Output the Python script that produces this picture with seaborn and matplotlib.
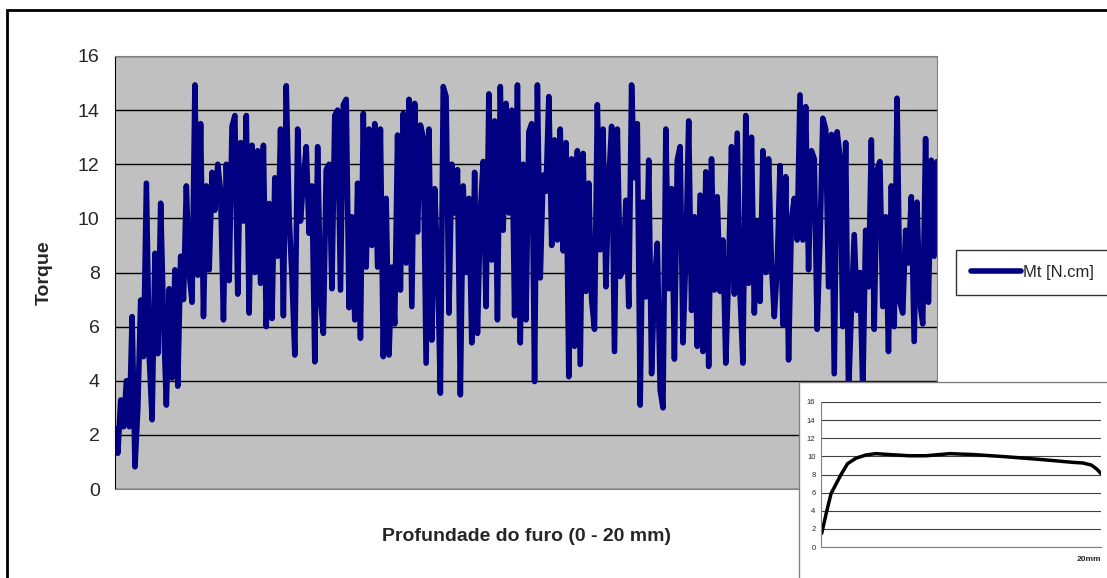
import numpy as np
import pandas as pd
import matplotlib
matplotlib.use("Agg")
import matplotlib.pyplot as plt
import seaborn as sns
from matplotlib.patches import Rectangle

# torque readings along the hole (left to right)
torque = [
    2.24, 1.32, 3.29, 2.3, 4.0, 2.3, 6.37, 0.82, 3.0, 6.98, 4.89, 11.3, 4.9, 2.56,
    8.71, 5.0, 10.56, 6.27, 3.1, 7.4, 4.1, 8.1, 3.8, 8.6, 7.0, 11.2, 7.97, 6.9,
    14.93, 7.9, 13.5, 6.37, 11.2, 8.1, 11.7, 10.3,
    12.0, 11.0, 6.25, 12.0, 7.7, 13.4, 13.8, 7.2, 12.8, 9.9, 13.8, 6.5, 12.7, 8.0,
    12.5, 7.6, 12.7, 6.0, 10.55, 6.3, 11.5, 8.6, 13.3, 6.4, 14.9, 10.06, 7.85, 4.95,
    13.3, 9.9, 11.4, 12.65, 9.45, 11.2, 4.7, 12.65, 7.1,
    5.75, 11.8, 12.0, 7.4, 13.8, 14.0, 7.35, 14.2, 14.4, 6.7, 10.06, 6.25, 11.3,
    5.57, 13.88, 8.2, 13.3, 9.0, 13.5, 8.2, 13.3, 4.89, 10.74, 4.95, 8.2, 6.1,
    13.08, 7.35, 13.88, 8.35,
    14.4, 6.74, 14.25, 9.5, 13.45, 13.0, 4.65, 13.3, 5.5, 11.1, 8.4, 3.54, 14.87,
    14.5, 6.5, 12.0, 10.2, 11.8, 3.48, 11.2, 8.0, 10.74, 5.4, 11.7, 5.75, 10.2,
    12.1, 6.74, 14.6, 8.46, 13.6, 6.25, 14.87, 9.56, 14.25, 10.2,
    14.0, 6.4, 14.93, 5.4, 12.0, 6.25, 13.2, 13.5, 3.97, 14.93, 7.8, 11.6, 11.0,
    14.5, 9.0, 12.9, 9.2, 13.3, 8.8, 12.8, 4.15, 12.2, 5.27, 12.5, 4.6, 12.4, 7.3,
    11.3, 7.0, 5.9, 14.2, 8.84,
    13.3, 7.47, 11.4, 13.4, 5.08, 13.3, 7.85, 8.1, 10.67, 6.74, 14.93, 11.5, 13.5,
    3.1, 10.6, 7.1, 12.15, 4.26, 7.6, 9.08, 3.66, 3.0, 13.3, 7.4, 11.1, 4.8, 12.15,
    12.65, 5.4, 8.58, 13.6, 6.6, 10.06, 5.27, 10.86,
    5.08, 11.72, 4.53, 12.2, 7.35, 10.8, 7.3, 9.2, 4.65, 8.1, 12.65, 7.2, 13.15,
    7.2, 4.65, 13.8, 7.6, 13.0, 6.5, 9.9, 6.93, 12.5, 8.0, 12.2, 8.35, 6.37, 8.2,
    11.95, 6.06, 11.54, 4.77, 9.95, 10.74, 9.2,
    14.56, 9.2, 14.13, 8.1, 12.5, 12.2, 5.9, 9.2, 13.7, 13.3, 7.47, 13.1, 4.26,
    13.2, 12.3, 6.0, 12.8, 3.5, 6.6, 9.4, 6.6, 8.0, 3.6, 9.56, 7.47, 12.9, 5.9,
    11.8, 12.1, 6.74, 10.06, 5.08, 11.2, 6.0, 14.44, 6.9, 6.5, 9.56, 8.35, 10.8,
    5.45, 10.6, 6.9, 6.1, 12.95, 6.9, 12.15, 8.6, 12.1,
]

# average curve in the small inset (depth in mm, torque)
avg_depth = [0.05, 0.4, 0.72, 1.43, 1.9, 2.5, 3.2, 3.9, 4.9, 6.3, 7.5, 9.2,
             10.9, 13.2, 15.6, 18.0, 18.7, 19.3, 19.7, 20.0]
avg_torque = [1.5, 3.9, 5.9, 8.0, 9.2, 9.8, 10.15, 10.3, 10.2, 10.07, 10.07, 10.3,
              10.2, 9.96, 9.67, 9.34, 9.27, 9.05, 8.6, 8.1]

y_ticks = [0, 2, 4, 6, 8, 10, 12, 14, 16]

df = pd.DataFrame({"step": np.arange(len(torque)), "Mt [N.cm]": torque})
avg = pd.DataFrame({"depth": avg_depth, "torque": avg_torque})

sns.set_style("white")
plt.rcParams['font.family'] = ['Liberation Sans', 'DejaVu Sans']

W, H = 1107, 578
fig = plt.figure(figsize=(W / 100, H / 100), dpi=100)

# outer chart frame
fig.patches.append(Rectangle((7 / W, -0.05), 1.2, 1 - 10 / H + 0.05,
                             transform=fig.transFigure, fill=False,
                             edgecolor='black', linewidth=2, zorder=0))

ax = fig.add_axes([115 / W, (H - 489) / H, (937 - 115) / W, (489 - 56) / H])
ax.set_facecolor('#C0C0C0')
sns.lineplot(data=df, x="step", y="Mt [N.cm]", ax=ax, color='#000080',
             linewidth=4, label="Mt [N.cm]")
ax.set_xlim(0, len(torque) - 1)
ax.set_ylim(0, 16)
ax.set_yticks(y_ticks)
ax.set_xticks([])
ax.grid(axis='y', color='black', linewidth=1)
ax.set_axisbelow(True)
for s in ax.spines.values():
    s.set_color('#808080')
ax.spines['left'].set_color('black')
ax.tick_params(axis='y', length=5, width=1, color='black', labelsize=14, pad=6)
ax.set_ylabel("Torque", fontsize=14, fontweight='bold', labelpad=18)
ax.set_xlabel("Profundade do furo (0 - 20 mm)", fontsize=14, fontweight='bold',
              labelpad=28)
ax.legend(loc='center left', bbox_to_anchor=(1.017, 0.5), frameon=True,
          fancybox=False, edgecolor='black', fontsize=12, handlelength=3.0,
          handletextpad=0.15, borderpad=0.9, borderaxespad=0.3)

# inset with the averaged curve
fig.patches.append(Rectangle((799 / W, -0.05), 0.4, (H - 382) / H + 0.05,
                             transform=fig.transFigure, facecolor='white',
                             edgecolor='#808080', linewidth=1, zorder=5))
ins = fig.add_axes([821 / W, (H - 547) / H, (1101 - 821) / W, (547 - 402) / H],
                   zorder=6)
ins.set_facecolor('white')
sns.lineplot(data=avg, x="depth", y="torque", ax=ins, color='black', linewidth=2.5)
ins.set_xlim(0, 20)
ins.set_ylim(0, 16)
ins.set_yticks(y_ticks)
ins.set_xticks([])
ins.set_xlabel("")
ins.set_ylabel("")
ins.grid(axis='y', color='#404040', linewidth=0.8)
ins.set_axisbelow(True)
for side in ['top', 'right']:
    ins.spines[side].set_visible(False)
ins.spines['left'].set_color('#808080')
ins.spines['bottom'].set_color('#808080')
ins.tick_params(axis='y', length=2, labelsize=5.5, pad=2)
ins.text(1.0, -0.06, "20mm", transform=ins.transAxes, ha='right', va='top',
         fontsize=6, fontweight='bold')

fig.savefig("out.png", dpi=100)
